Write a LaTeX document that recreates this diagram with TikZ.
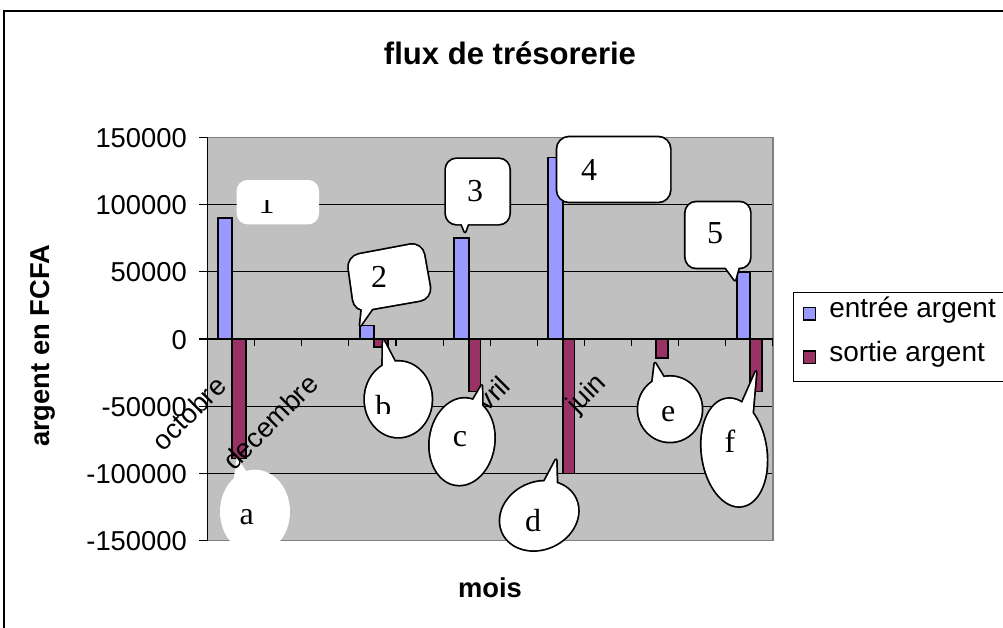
\documentclass[tikz,border=0pt]{standalone}
\usepackage{fontspec}
\setmainfont{Liberation Sans}
\newfontfamily\tms{Liberation Serif}
\definecolor{entc}{HTML}{9999FF}
\definecolor{sorc}{HTML}{993366}
\definecolor{plotbg}{HTML}{C0C0C0}
\definecolor{plotbd}{HTML}{808080}
\begin{document}
\begin{tikzpicture}[x=0.75pt,y=-0.75pt,
  axtxt/.style={font=\fontsize{20.5}{24}\selectfont, inner sep=0pt},
  legtxt/.style={font=\fontsize{21}{24}\selectfont, inner sep=0pt},
  boldtxt/.style={font=\fontsize{20.5}{24}\selectfont\bfseries, inner sep=0pt},
  titletxt/.style={font=\fontsize{23.3}{27}\selectfont\bfseries, inner sep=0pt},
  entbar/.style={fill=entc, draw=black, line width=1.3pt},
  sorbar/.style={fill=sorc, draw=black, line width=1.3pt},
  gridl/.style={draw=black, line width=0.8pt},
  callline/.style={draw=black, line width=2.6pt, line join=round},
  callfill/.style={fill=white},
  calltxt/.style={font=\tms\fontsize{24}{28}\selectfont, inner sep=0pt}]
\useasboundingbox (0,0) rectangle (1003,628);
% outer frame
\draw[line width=0.9pt] (4,628) -- (4,11) -- (1003,11);
\node[titletxt, anchor=base] (title) at (510,64.3) {flux de trésorerie};
% plot area
\fill[plotbg] (207.7,137.4) rectangle (772.7,540.6);
\foreach \yy in {204.6,271.8,406.2,473.4} \draw[gridl] (207.7,\yy) -- (772.7,\yy);
\draw[plotbd, line width=1.3pt] (207.7,137.4) -- (772.7,137.4) -- (772.7,540.6) -- (207.7,540.6);
\draw[black, line width=0.9pt] (207.7,137.4) -- (207.7,540.6);
\foreach \yy in {137.4,204.6,271.8,339,406.2,473.4,540.6} \draw[line width=0.8pt] (199,\yy) -- (207.7,\yy);
% y labels
\foreach \v/\yy/\i in {150000/137.4/1,100000/204.6/2,50000/271.8/3,0/339/4,-50000/406.2/5,-100000/473.4/6,-150000/540.6/7}
  \node[axtxt, anchor=base east] (yl\i) at (187,\yy+10) {\v};
% bars
\draw[entbar] (217.7,339) rectangle (232.3,218);
\draw[sorbar] (232.3,339) rectangle (246,458.6);
\draw[entbar] (360,339) rectangle (374,325.6);
\draw[sorbar] (374,339) rectangle (388,347);
\draw[entbar] (454.3,339) rectangle (468.7,238);
\draw[sorbar] (468.7,339) rectangle (480.5,391.4);
\draw[entbar] (548.3,339) rectangle (562.7,157.6);
\draw[sorbar] (562.7,339) rectangle (574.5,473.4);
\draw[sorbar] (655.7,339) rectangle (668.3,357.8);
\draw[entbar] (736.7,339) rectangle (750,271.8);
\draw[sorbar] (750,339) rectangle (762.3,391.4);
% category axis
\draw[line width=0.9pt] (207.7,339) -- (772.7,339);
\foreach \k in {1,...,12} \draw[line width=0.8pt] (207.7+47.08*\k,339) -- ++(0,7);
% callout a (no border)
\begin{scope}
  \clip (200,440) rectangle (300,541);
  \fill[white] (255,511.7) ellipse [x radius=35, y radius=42];
  \fill[white] (236.7,456.7) -- (252,480) -- (232,492) -- cycle;
\end{scope}
\node[calltxt] (ta) at (246.7,516.7) {a};
% category labels
\node[axtxt, rotate=45, anchor=north east] (m1) at (214,373.5) {octobre};
\node[axtxt, rotate=45, anchor=north east] (m3) at (306,371.5) {decembre};
\node[axtxt, rotate=45, anchor=north east] (m7) at (498.2,373.5) {avril};
\node[axtxt, rotate=45, anchor=north east] (m9) at (593.2,370) {juin};
% callout 1 (no border)
\fill[white, rounded corners=8] (236.7,180) rectangle (319,224.3);
\begin{scope}
  \clip (240,200) rectangle (315,224);
  \node[calltxt, anchor=base] (t1) at (266.7,213.3) {1};
\end{scope}
% callout 2
\draw[callline, rounded corners=9] (347.3,256.7) -- (421.7,242.7) -- (431.7,298.3) -- (355,311.7) -- cycle;
\draw[callline] (362.5,305) -- (360.3,325.5) -- (376,303) -- cycle;
\fill[white, rounded corners=9] (347.3,256.7) -- (421.7,242.7) -- (431.7,298.3) -- (355,311.7) -- cycle;
\fill[white] (362.5,305) -- (360.3,325.5) -- (376,303) -- cycle;
\node[calltxt] (t2) at (379,276.7) {2};
% callout 3
\draw[callline, rounded corners=8] (446,159) rectangle (509.3,224);
\draw[callline] (459.3,218) -- (465,231.7) -- (470,218) -- cycle;
\fill[white, rounded corners=8] (446,159) rectangle (509.3,224);
\fill[white] (459.3,218) -- (465,231.7) -- (470,218) -- cycle;
\node[calltxt] (t3) at (475,190.8) {3};
% callout 4
\draw[callline, rounded corners=9] (557.3,137.3) rectangle (670,201.7);
\fill[white, rounded corners=9] (557.3,137.3) rectangle (670,201.7);
\node[calltxt] (t4) at (589,169.7) {4};
% callout 5
\draw[callline, rounded corners=8] (685.7,202.3) rectangle (750,267.7);
\draw[callline] (721.7,262) -- (735,280) -- (740,262) -- cycle;
\fill[white, rounded corners=8] (685.7,202.3) rectangle (750,267.7);
\fill[white] (721.7,262) -- (735,280) -- (740,262) -- cycle;
\node[calltxt] (t5) at (715,232.8) {5};
% callout b
\draw[callline] (398.3,399.3) ellipse [x radius=33.3, y radius=37.7];
\draw[callline] (383.3,340) -- (399,370) -- (382.7,375) -- cycle;
\fill[white] (398.3,399.3) ellipse [x radius=33.3, y radius=37.7];
\fill[white] (383.3,340) -- (399,370) -- (382.7,375) -- cycle;
\begin{scope}
  \clip (360,380) rectangle (420,413.3);
  \node[calltxt, anchor=base] (tb) at (383.3,417) {b};
\end{scope}
% callout c
\begin{scope}[shift={(462,441.7)}, rotate=-8]
  \draw[callline] (0,0) ellipse [x radius=32, y radius=43.3];
\end{scope}
\draw[callline] (468,409) -- (481.7,385.7) -- (482,413) -- cycle;
\begin{scope}[shift={(462,441.7)}, rotate=-8]
  \fill[white] (0,0) ellipse [x radius=32, y radius=43.3];
\end{scope}
\fill[white] (468,409) -- (481.7,385.7) -- (482,413) -- cycle;
\node[calltxt] (tc) at (460,439.5) {c};
% callout d
\begin{scope}[shift={(539.2,515.8)}, rotate=25]
  \draw[callline] (0,0) ellipse [x radius=40, y radius=33];
\end{scope}
\draw[callline] (540,490) -- (556,460) -- (557,492) -- cycle;
\begin{scope}[shift={(539.2,515.8)}, rotate=25]
  \fill[white] (0,0) ellipse [x radius=40, y radius=33];
\end{scope}
\fill[white] (540,490) -- (556,460) -- (557,492) -- cycle;
\node[calltxt] (td) at (533,521) {d};
% callout e
\draw[callline] (670,409.2) ellipse [x radius=31.7, y radius=32.5];
\draw[callline] (652,388) -- (655,363.3) -- (667,383) -- cycle;
\fill[white] (670,409.2) ellipse [x radius=31.7, y radius=32.5];
\fill[white] (652,388) -- (655,363.3) -- (667,383) -- cycle;
\node[calltxt] (te) at (668.3,413.7) {e};
% callout f
\begin{scope}[shift={(734.2,452.5)}, rotate=8]
  \draw[callline] (0,0) ellipse [x radius=32, y radius=54];
\end{scope}
\draw[callline] (740,408) -- (756,371.7) -- (752,418) -- cycle;
\begin{scope}[shift={(734.2,452.5)}, rotate=8]
  \fill[white] (0,0) ellipse [x radius=32, y radius=54];
\end{scope}
\fill[white] (740,408) -- (756,371.7) -- (752,418) -- cycle;
\node[calltxt] (tf) at (730,441.7) {f};
% axis titles
\node[boldtxt, rotate=90, anchor=base] (ylab) at (49,346) {argent en FCFA};
\node[boldtxt, anchor=base] (xlab) at (490,597) {mois};
% legend
\draw[line width=0.9pt, fill=white] (793.3,292.7) rectangle (1010,381.7);
\draw[entbar, line width=1pt] (803.5,307.5) rectangle (815.5,320);
\draw[sorbar, line width=1pt] (803.5,351) rectangle (815.5,363.5);
\node[legtxt, anchor=base west] (le1) at (829,317) {entrée argent};
\node[legtxt, anchor=base west] (le2) at (829,361) {sortie argent};
\end{tikzpicture}
\end{document}
